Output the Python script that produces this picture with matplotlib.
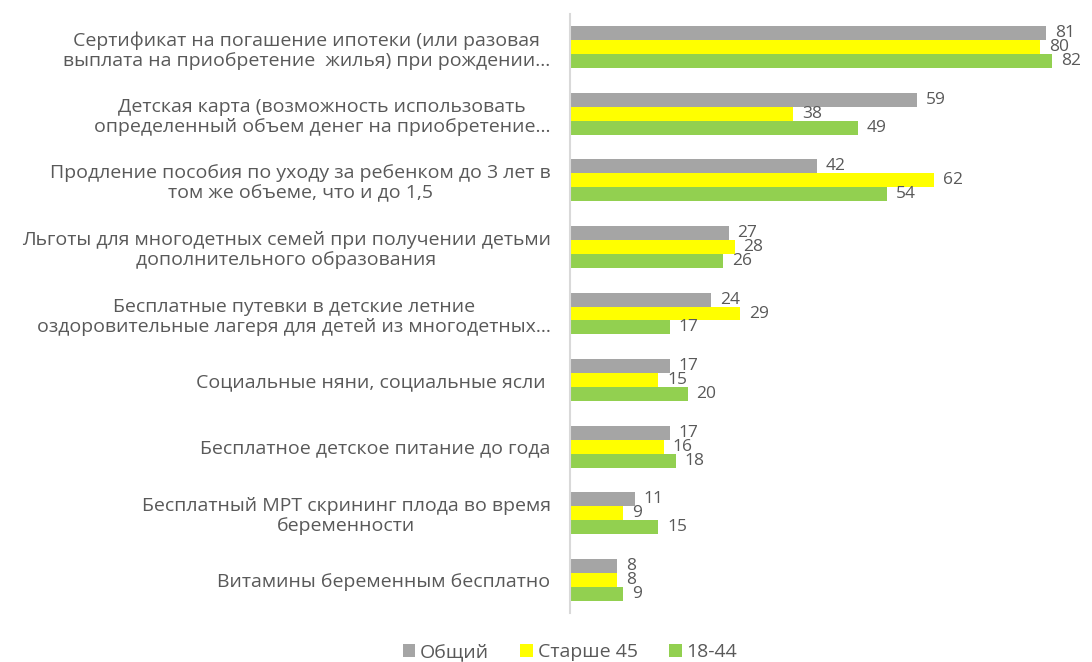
import matplotlib
matplotlib.use("Agg")
import matplotlib.pyplot as plt
import numpy as np

categories = [
    "Сертификат на погашение ипотеки (или разовая\nвыплата на приобретение  жилья) при рождении…",
    "Детская карта (возможность использовать\nопределенный объем денег на приобретение…",
    "Продление пособия по уходу за ребенком до 3 лет в\nтом же объеме, что и до 1,5",
    "Льготы для многодетных семей при получении детьми\nдополнительного образования",
    "Бесплатные путевки в детские летние\nоздоровительные лагеря для детей из многодетных…",
    "Социальные няни, социальные ясли ",
    "Бесплатное детское питание до года",
    "Бесплатный МРТ скрининг плода во время\nбеременности",
    "Витамины беременным бесплатно",
]
series_names = ["Общий", "Старше 45", "18-44"]
total = [81, 59, 42, 27, 24, 17, 17, 11, 8]
over45 = [80, 38, 62, 28, 29, 15, 16, 9, 8]
young = [82, 49, 54, 26, 17, 20, 18, 15, 9]

colors = ["#A5A5A5", "#FFFF00", "#92D050"]
text_color = "#595959"
plt.rcParams["font.family"] = ["Open Sans", "DejaVu Sans"]

fig = plt.figure(figsize=(10.92, 6.62), dpi=100)
ax = fig.add_axes([570 / 1092, 1 - 613 / 662, 522 / 1092, 599 / 662])

y = np.arange(len(categories))
h = 0.21
for i, (vals, name, c) in enumerate(zip([total, over45, young], series_names, colors)):
    pos = y + (i - 1) * h
    ax.barh(pos, vals, height=h, color=c, label=name)
    for yy, v in zip(pos, vals):
        ax.text(v + 1.5, yy, str(v), va="center", ha="left",
                fontsize=12.5, color=text_color)

ax.set_xlim(0, 88.8)
ax.set_ylim(len(categories) - 0.5, -0.5)
ax.set_yticks(y)
ax.set_yticklabels(categories, fontsize=14, color=text_color, ma="center",
                   linespacing=1.15)
ax.tick_params(axis="y", length=0, pad=14)
ax.set_xticks([])
for s in ["top", "right", "bottom"]:
    ax.spines[s].set_visible(False)
ax.spines["left"].set_color("#D9D9D9")
ax.spines["left"].set_linewidth(1.5)

handles, labels = ax.get_legend_handles_labels()
fig.legend(handles, labels, loc="center", bbox_to_anchor=(570 / 1092, 1 - 652 / 662),
           ncol=3, frameon=False, fontsize=14, handlelength=0.65, handleheight=0.65,
           handletextpad=0.25, columnspacing=1.6, labelcolor=text_color)

fig.savefig("out.png", dpi=100)
